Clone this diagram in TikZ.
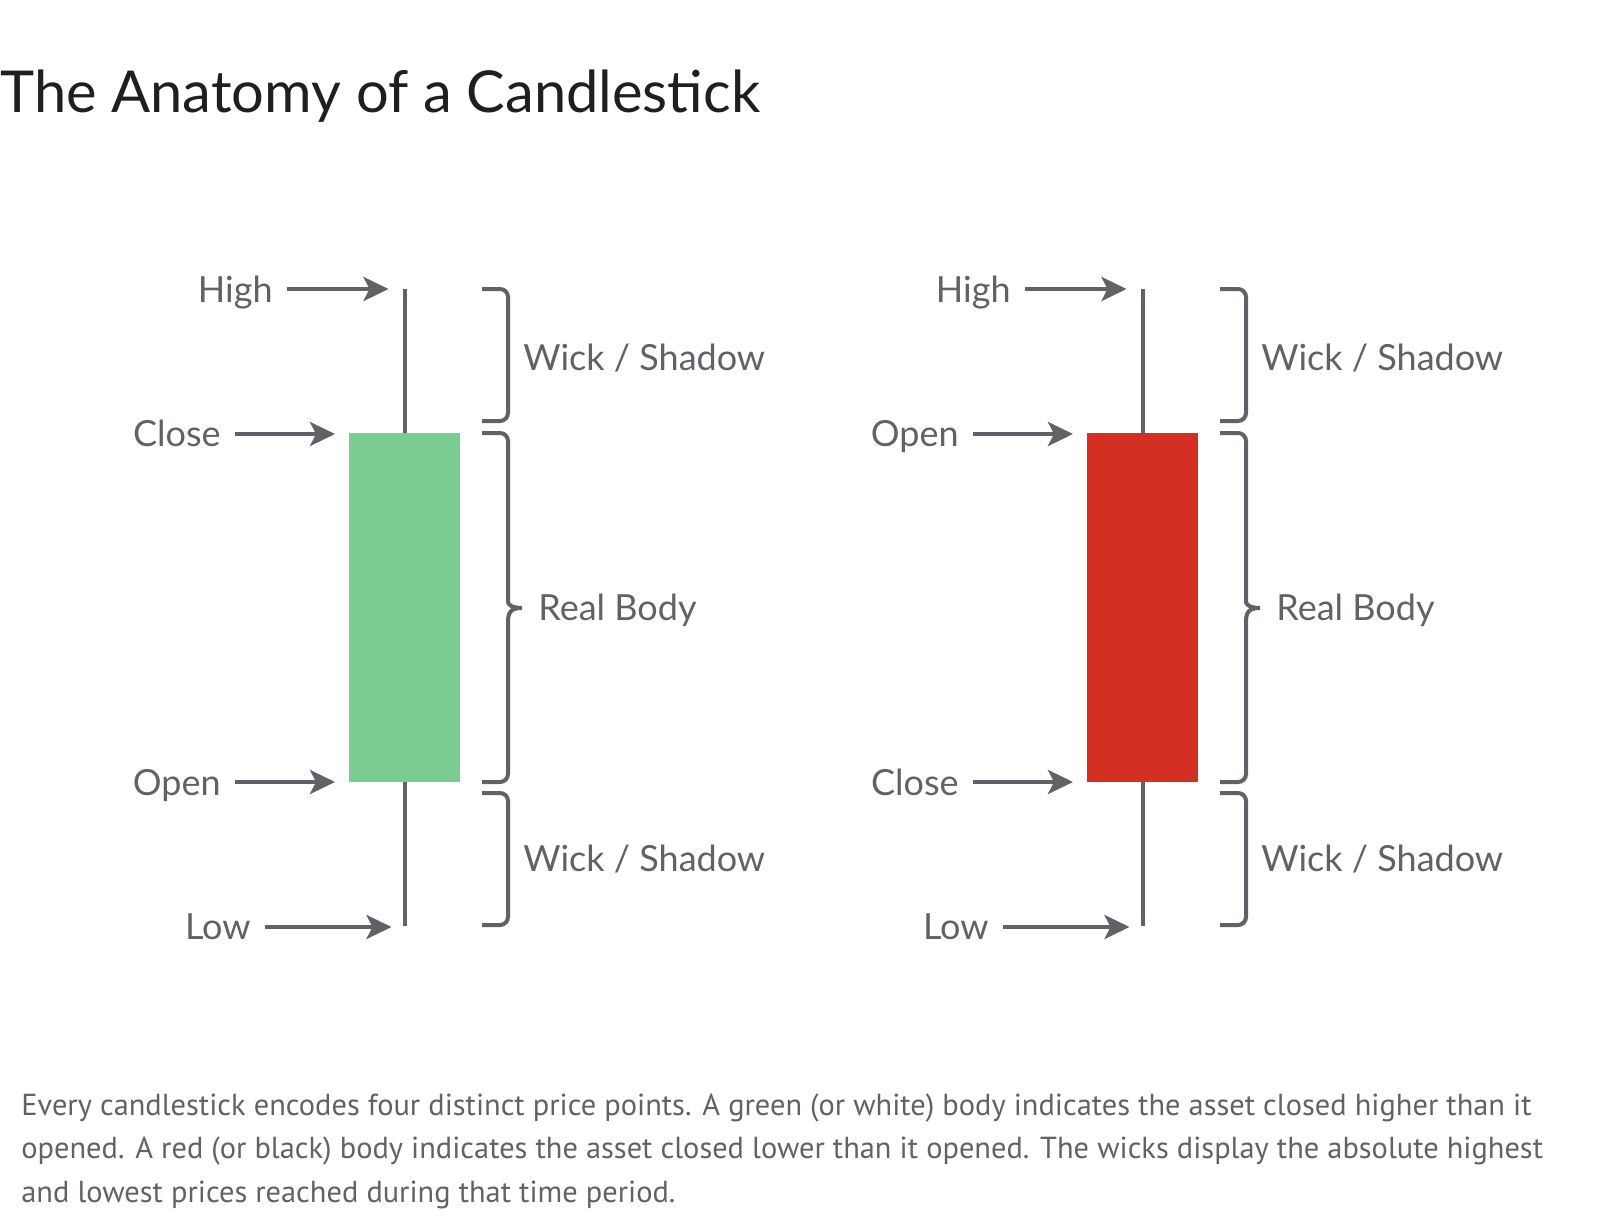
\documentclass[tikz,border=0pt]{standalone}
\usepackage{fontspec}
\setmainfont{Lato}
\newfontfamily\capfont{PT Sans}
\usetikzlibrary{arrows.meta}
\definecolor{ink}{HTML}{5F6368}
\definecolor{titlecol}{HTML}{1F1F1F}
\definecolor{bull}{HTML}{79CD90}
\definecolor{bear}{HTML}{D32F22}
\tikzset{
  lbl/.style={font=\fontsize{18}{21}\selectfont, text=ink, inner sep=0pt},
  arr/.style={draw=ink, line width=2pt, -{Stealth[length=12.5pt,width=12pt,inset=3pt]}},
  wickline/.style={draw=ink, line width=2pt},
  brk/.style={draw=ink, line width=2pt, rounded corners=4pt},
  bodybox/.style={inner sep=0pt, outer sep=0pt, minimum width=55.5pt, minimum height=174.5pt},
  captext/.style={font=\capfont\fontsize{15.2}{18}\selectfont, text=ink, inner sep=0pt, anchor=base west},
}
% #1 prefix, #2 fill, #3 upper label, #4 lower label, #5 shift (px)
\newcommand\drawcandle[5]{%
\begin{scope}[xshift=#5*0.5pt]
  \node[bodybox, fill=#2] (#1body) at (404.5,607.5) {};
  \coordinate (#1top) at (404.5,289);
  \coordinate (#1bot) at (404.5,926);
  \draw[wickline] (#1top) -- (#1body.north);
  \draw[wickline] (#1body.south) -- (#1bot);
  % labels
  \node[lbl, anchor=base east] (#1hl) at (273,302.5) {High};
  \node[lbl, anchor=base east] (#1ul) at (221,446.5) {#3};
  \node[lbl, anchor=base east] (#1ll) at (221,795.5) {#4};
  \node[lbl, anchor=base east] (#1lo) at (251,939.5) {Low};
  \coordinate (#1hiT) at ([xshift=-8pt]#1top);
  \coordinate (#1upT) at ([xshift=-7pt,yshift=-0.5pt]#1body.north west);
  \coordinate (#1loT) at ([xshift=-7pt]#1body.south west);
  \coordinate (#1lwT) at ([xshift=-6.5pt,yshift=-0.5pt]#1bot);
  \draw[arr] ([xshift=7pt]#1hl.east |- #1hiT) -- (#1hiT);
  \draw[arr] ([xshift=7pt]#1ul.east |- #1upT) -- (#1upT);
  \draw[arr] ([xshift=7pt]#1ll.east |- #1loT) -- (#1loT);
  \draw[arr] ([xshift=7pt]#1lo.east |- #1lwT) -- (#1lwT);
  % brackets
  \draw[brk] (482,289) -- (508,289) -- (508,421) -- (482,421);
  \draw[brk] (482,433) -- (508,433) -- (508,594) [sharp corners]
     .. controls (508,604) and (511,608) .. (522,608)
     .. controls (511,608) and (508,612) .. (508,622) [rounded corners=4pt]
     -- (508,782) -- (482,782);
  \draw[brk] (482,793) -- (508,793) -- (508,925) -- (482,925);
  \node[lbl, anchor=base west] (#1wu) at (523,370) {Wick / Shadow};
  \node[lbl, anchor=base west] (#1rb) at (538,620) {Real Body};
  \node[lbl, anchor=base west] (#1wl) at (523,871) {Wick / Shadow};
\end{scope}}
\begin{document}
\begin{tikzpicture}[x=0.5pt, y=-0.5pt]
  \useasboundingbox[fill=white] (0,0) rectangle (1600,1226);
  \node[anchor=base west, inner sep=0pt, font=\fontsize{28.9}{35}\selectfont, text=titlecol] (title) at (0,112) {The Anatomy of a Candlestick};
  \drawcandle{g}{bull}{Close}{Open}{0}
  \drawcandle{r}{bear}{Open}{Close}{738}
  \node[captext] (cap1) at (21,1115) {Every candlestick encodes four distinct price points. A green (or white) body indicates the asset closed higher than it};
  \node[captext] (cap2) at (21,1158.5) {opened. A red (or black) body indicates the asset closed lower than it opened. The wicks display the absolute highest};
  \node[captext] (cap3) at (21,1202) {and lowest prices reached during that time period.};
\end{tikzpicture}
\end{document}
